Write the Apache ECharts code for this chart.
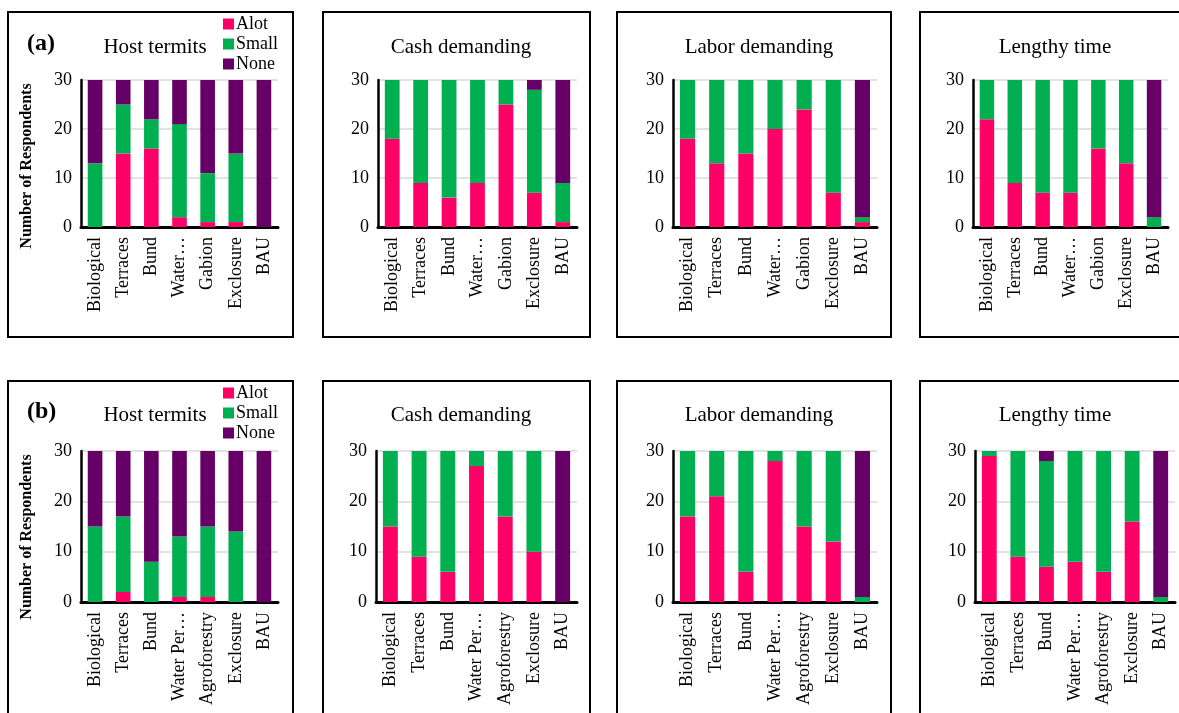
<!DOCTYPE html>
<html>
<head>
<meta charset="utf-8">
<title>Constraints of soil and water conservation practices</title>
<script src="https://cdn.jsdelivr.net/npm/echarts@6/dist/echarts.min.js"></script>
<style>
  html, body { margin: 0; padding: 0; background: #ffffff; }
  #chart { width: 1179px; height: 713px; }
</style>
</head>
<body>
<div id="chart"></div>
<script>
// Practice categories for the two study groups
const catsA = ['Biological', 'Terraces', 'Bund', 'Water…', 'Gabion', 'Exclosure', 'BAU'];
const catsB = ['Biological', 'Terraces', 'Bund', 'Water Per…', 'Agroforestry', 'Exclosure', 'BAU'];

const levelNames = ['Alot', 'Small', 'None'];
const panelTitles = ['Host termits', 'Cash demanding', 'Labor demanding', 'Lengthy time'];
const yTicks = [0, 10, 20, 30];

// (a) Host termits
const aHostAlot  = [0, 15, 16, 2, 1, 1, 0];
const aHostSmall = [13, 10, 6, 19, 10, 14, 0];
const aHostNone  = [17, 5, 8, 9, 19, 15, 30];
// (a) Cash demanding
const aCashAlot  = [18, 9, 6, 9, 25, 7, 1];
const aCashSmall = [12, 21, 24, 21, 5, 21, 8];
const aCashNone  = [0, 0, 0, 0, 0, 2, 21];
// (a) Labor demanding
const aLaborAlot  = [18, 13, 15, 20, 24, 7, 1];
const aLaborSmall = [12, 17, 15, 10, 6, 23, 1];
const aLaborNone  = [0, 0, 0, 0, 0, 0, 28];
// (a) Lengthy time
const aTimeAlot  = [22, 9, 7, 7, 16, 13, 0];
const aTimeSmall = [8, 21, 23, 23, 14, 17, 2];
const aTimeNone  = [0, 0, 0, 0, 0, 0, 28];

// (b) Host termits
const bHostAlot  = [0, 2, 0, 1, 1, 0, 0];
const bHostSmall = [15, 15, 8, 12, 14, 14, 0];
const bHostNone  = [15, 13, 22, 17, 15, 16, 30];
// (b) Cash demanding
const bCashAlot  = [15, 9, 6, 27, 17, 10, 0];
const bCashSmall = [15, 21, 24, 3, 13, 20, 0];
const bCashNone  = [0, 0, 0, 0, 0, 0, 30];
// (b) Labor demanding
const bLaborAlot  = [17, 21, 6, 28, 15, 12, 0];
const bLaborSmall = [13, 9, 24, 2, 15, 18, 1];
const bLaborNone  = [0, 0, 0, 0, 0, 0, 29];
// (b) Lengthy time
const bTimeAlot  = [29, 9, 7, 8, 6, 16, 0];
const bTimeSmall = [1, 21, 21, 22, 24, 14, 1];
const bTimeNone  = [0, 0, 2, 0, 0, 0, 29];

const FONT = "'Liberation Serif', 'Times New Roman', serif";
const COLORS = ['#FF0066', '#00B050', '#660066'];

// panel layout: plot rectangles and frames
const panels = [
  { cats: catsA, data: [aHostAlot, aHostSmall, aHostNone],   grid: { left: 81,  top: 80, width: 197, height: 147 }, frame: [8, 12, 285, 325],   titleX: 150 },
  { cats: catsA, data: [aCashAlot, aCashSmall, aCashNone],   grid: { left: 378, top: 80, width: 199, height: 147 }, frame: [323, 12, 267, 325], titleX: 456 },
  { cats: catsA, data: [aLaborAlot, aLaborSmall, aLaborNone], grid: { left: 673, top: 80, width: 204, height: 147 }, frame: [617, 12, 274, 325], titleX: 754 },
  { cats: catsA, data: [aTimeAlot, aTimeSmall, aTimeNone],   grid: { left: 973, top: 80, width: 195, height: 147 }, frame: [920, 12, 280, 325], titleX: 1050 },
  { cats: catsB, data: [bHostAlot, bHostSmall, bHostNone],   grid: { left: 81,  top: 451, width: 197, height: 151 }, frame: [8, 381, 285, 400],   titleX: 150 },
  { cats: catsB, data: [bCashAlot, bCashSmall, bCashNone],   grid: { left: 376, top: 451, width: 201, height: 151 }, frame: [323, 381, 267, 400], titleX: 456 },
  { cats: catsB, data: [bLaborAlot, bLaborSmall, bLaborNone], grid: { left: 673, top: 451, width: 204, height: 151 }, frame: [617, 381, 274, 400], titleX: 754 },
  { cats: catsB, data: [bTimeAlot, bTimeSmall, bTimeNone],   grid: { left: 975, top: 451, width: 200, height: 151 }, frame: [920, 381, 280, 400], titleX: 1050 }
];

const grids = [], xAxes = [], yAxes = [], series = [], titles = [], graphics = [];

panels.forEach((p, i) => {
  const rowTop = i < 4;
  grids.push(Object.assign({ containLabel: false }, p.grid));

  xAxes.push({
    type: 'category',
    gridIndex: i,
    data: p.cats,
    axisLine: { show: true, lineStyle: { color: '#000', width: 3 } },
    axisTick: { show: false },
    axisLabel: { rotate: 90, margin: 10, color: '#000', fontSize: 18, fontFamily: FONT, interval: 0 }
  });

  yAxes.push({
    type: 'value',
    gridIndex: i,
    min: yTicks[0],
    max: yTicks[yTicks.length - 1],
    interval: yTicks[1] - yTicks[0],
    axisLine: { show: true, lineStyle: { color: '#000', width: 2.5 } },
    axisTick: { show: false },
    axisLabel: { margin: 9, color: '#000', fontSize: 18, fontFamily: FONT },
    splitLine: { show: true, lineStyle: { color: '#D9D9D9', width: 1.5 } }
  });

  levelNames.forEach((name, k) => {
    series.push({
      name: name,
      type: 'bar',
      xAxisIndex: i,
      yAxisIndex: i,
      stack: 'panel' + i,
      barWidth: '52%',
      itemStyle: { color: COLORS[k] },
      data: p.data[k],
      animation: false
    });
  });

  titles.push({
    text: panelTitles[i % 4],
    left: p.titleX,
    top: rowTop ? 32 : 400,
    textAlign: 'center',
    textStyle: { fontFamily: FONT, fontSize: 21, fontWeight: 'normal', color: '#000' }
  });

  graphics.push({
    type: 'rect',
    shape: { x: p.frame[0], y: p.frame[1], width: p.frame[2], height: p.frame[3] },
    style: { fill: 'none', stroke: '#000', lineWidth: 2 },
    silent: true
  });
});

// panel letters and y-axis titles
[['(a)', 46, 166], ['(b)', 414, 537]].forEach(([label, ly, ny]) => {
  graphics.push({
    type: 'text',
    left: 27, top: ly - 14,
    style: { text: label, font: 'bold 24px ' + FONT, fill: '#000' },
    silent: true
  });
  graphics.push({
    type: 'text',
    x: 27, y: ny,
    rotation: Math.PI / 2,
    style: { text: 'Number of Respondents', font: 'bold 16px ' + FONT, fill: '#000', textAlign: 'center', textVerticalAlign: 'middle' },
    silent: true
  });
});

const legendBase = {
  orient: 'vertical',
  left: 218,
  itemWidth: 11,
  itemHeight: 11,
  itemGap: 0,
  icon: 'rect',
  data: levelNames,
  textStyle: { fontFamily: FONT, fontSize: 18, color: '#000', lineHeight: 20, padding: [0, 0, 0, -3] }
};

const option = {
  backgroundColor: '#ffffff',
  animation: false,
  title: titles,
  legend: [
    Object.assign({}, legendBase, { top: 9 }),
    Object.assign({}, legendBase, { top: 378 })
  ],
  grid: grids,
  xAxis: xAxes,
  yAxis: yAxes,
  series: series,
  graphic: graphics
};

const chart = echarts.init(document.getElementById('chart'), null, { renderer: 'canvas' });
chart.setOption(option);
</script>
</body>
</html>
